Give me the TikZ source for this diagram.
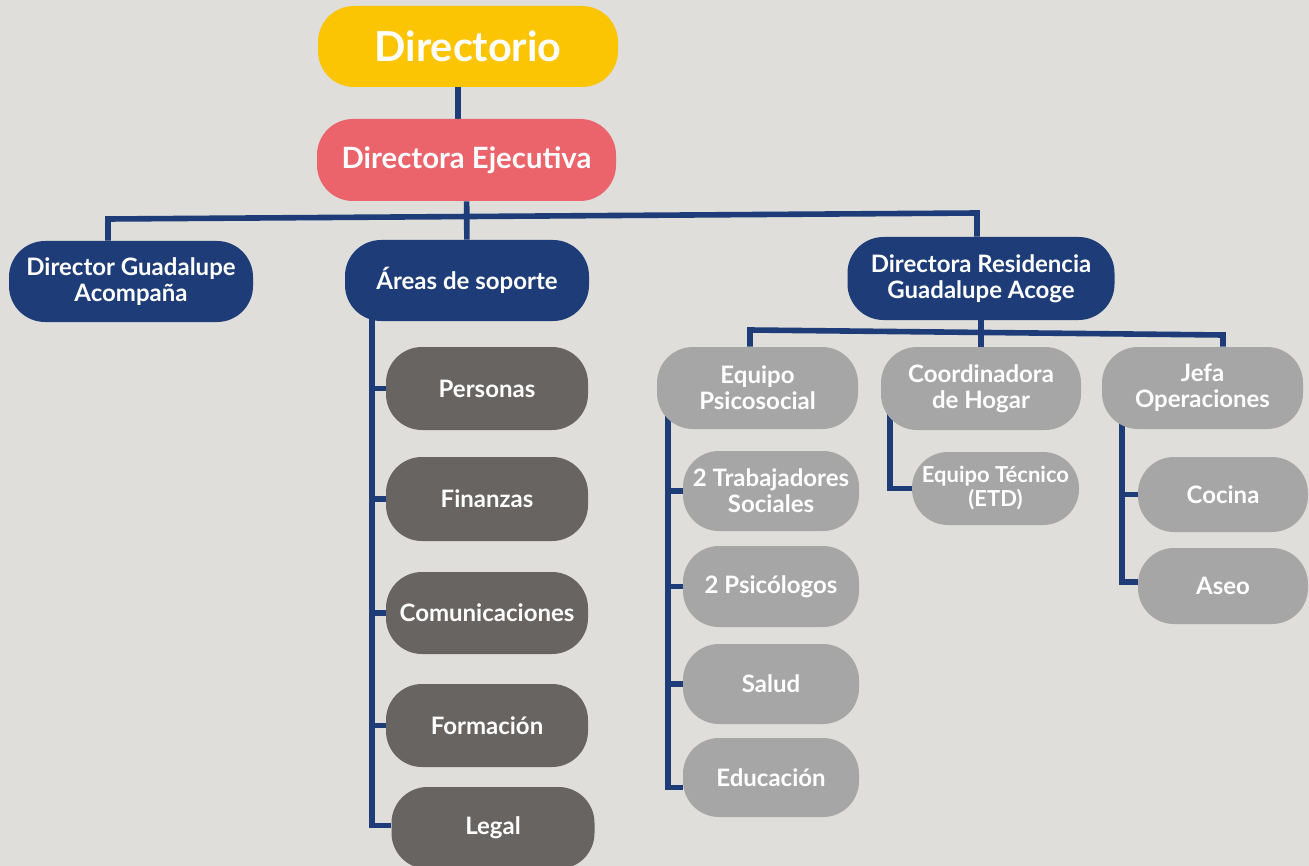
\documentclass[tikz,border=0pt]{standalone}
\usepackage{fontspec}
\setmainfont{Lato}
\usetikzlibrary{backgrounds,calc}
\definecolor{bgc}{HTML}{DFDEDA}
\definecolor{cyel}{HTML}{FCC504}
\definecolor{cpink}{HTML}{EB636B}
\definecolor{cnavy}{HTML}{1E3D78}
\definecolor{cdark}{HTML}{676462}
\definecolor{clight}{HTML}{A6A6A6}
\begin{document}
\begin{tikzpicture}[x=0.75pt,y=-0.75pt,
  pill/.style={rounded corners=27pt, inner sep=0pt, align=center, text=white,
    font=\bfseries\fontsize{18}{19.5}\selectfont},
  sz/.style 2 args={minimum width=#1*0.75pt, minimum height=#2*0.75pt},
  topbox/.style={pill, fill=cyel, font=\bfseries\fontsize{31}{34}\selectfont},
  execbox/.style={pill, fill=cpink, font=\bfseries\fontsize{22}{24}\selectfont},
  navybox/.style={pill, fill=cnavy},
  darkbox/.style={pill, fill=cdark},
  lightbox/.style={pill, fill=clight},
  link/.style={draw=cnavy, line width=4.2pt}
]
\useasboundingbox (0,0) rectangle (1309,866);

% nodes
\node[topbox, sz={300}{81}] (dir) at (468,46.5) {Directorio};
\node[execbox, sz={299}{82}] (de) at (466.5,160) {Directora Ejecutiva};
\node[navybox, sz={244}{81}] (dga) at (131,281.5) {Director Guadalupe\\Acompaña};
\node[navybox, sz={244}{81}] (as) at (467,280.5) {Áreas de soporte};
\node[navybox, sz={267}{83}] (drga) at (981,278.5) {Directora Residencia\\Guadalupe Acoge};

\node[darkbox, sz={202}{83}] (per) at (487,388.5) {Personas};
\node[darkbox, sz={202}{84}] (fin) at (487,499) {Finanzas};
\node[darkbox, sz={202}{82}] (com) at (487,613) {Comunicaciones};
\node[darkbox, sz={202}{83}] (for) at (487,725.5) {Formación};
\node[darkbox, sz={203}{82}] (leg) at (493,828) {Legal};

\node[lightbox, sz={201}{82}] (eps) at (757.5,388) {Equipo\\Psicosocial};
\node[lightbox, sz={200}{83}] (coh) at (981,388.5) {Coordinadora\\de Hogar};
\node[lightbox, sz={201}{82}] (jop) at (1202.5,388) {Jefa\\Operaciones};

\node[lightbox, sz={176}{80}] (tra) at (771,491) {2 Trabajadores\\Sociales};
\node[lightbox, sz={176}{81}] (psi) at (771,586.5) {2 Psicólogos};
\node[lightbox, sz={176}{80}] (sal) at (771,684) {Salud};
\node[lightbox, sz={176}{79}] (edu) at (771,777.5) {Educación};

\node[lightbox, sz={167}{73}, font=\bfseries\fontsize{16.5}{18}\selectfont] (etd) at (995.5,488.5) {Equipo Técnico\\(ETD)};

\node[lightbox, sz={170}{75}] (coc) at (1223,494.5) {Cocina};
\node[lightbox, sz={170}{76}] (ase) at (1223,586) {Aseo};

% connectors
\begin{pgfonlayer}{background}
\fill[bgc] (0,0) rectangle (1309,866);
\draw[link] ([xshift=-7.5pt]dir.south) -- ([xshift=-7.5pt]dir.south |- de.north);
\draw[link] (de) -- (as);
\coordinate (b1) at (108,219);
\coordinate (b2) at (977,213);
\draw[link] (b1 |- dga.north) -- (b1) -- (b2) -- (b2 |- drga.north);

\coordinate (r1) at (750,330);
\coordinate (r2) at (1223,335);
\draw[link] (drga) -- (coh);
\draw[link] (r1 |- eps.north) -- (r1) -- (r2) -- (r2 |- jop.north);

\coordinate (ta) at (372,300);
\draw[link] (ta) |- ([yshift=2pt]leg.west);
\foreach \n in {per,fin,com,for} \draw[link] (ta |- \n.west) -- (\n.west);

\coordinate (te) at (668,400);
\draw[link] (te) |- ([yshift=-7.5pt]edu.west);
\foreach \n in {tra,psi,sal} \draw[link] (te |- \n.west) -- (\n.west);

\coordinate (tc) at (890,400);
\draw[link] (tc) |- (etd.west);

\coordinate (tj) at (1122,400);
\draw[link] (tj) |- ([yshift=3pt]ase.west);
\draw[link] (tj |- coc.west) -- (coc.west);
\end{pgfonlayer}
\end{tikzpicture}
\end{document}
